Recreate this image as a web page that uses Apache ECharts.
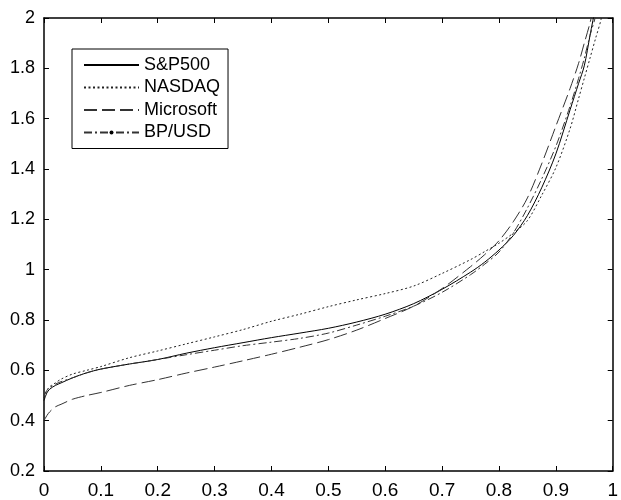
<!DOCTYPE html>
<html>
<head>
<meta charset="utf-8">
<script src="https://cdn.jsdelivr.net/npm/echarts@6/dist/echarts.min.js"></script>
<style>html,body{margin:0;padding:0;background:#fff}#c{width:621px;height:500px}</style>
</head>
<body>
<div id="c"></div>
<script>
const xs = [0, 0.005, 0.01, 0.02, 0.03, 0.05, 0.075, 0.1, 0.15, 0.2, 0.25, 0.3, 0.35, 0.4, 0.45, 0.5, 0.55, 0.6, 0.65, 0.7, 0.75, 0.775, 0.8, 0.825, 0.85, 0.875, 0.9, 0.925, 0.94, 0.95, 0.96, 0.97, 0.98, 0.99];
const sp500 = [0.48, 0.51, 0.525, 0.54, 0.55, 0.57, 0.59, 0.605, 0.625, 0.643, 0.668, 0.69, 0.71, 0.73, 0.748, 0.767, 0.792, 0.823, 0.865, 0.922, 0.99, 1.03, 1.078, 1.135, 1.215, 1.325, 1.46, 1.635, 1.74, 1.81, 1.93, 2.05, 2.2, 2.4];
const nasdaq = [0.49, 0.52, 0.535, 0.55, 0.565, 0.585, 0.60, 0.615, 0.65, 0.677, 0.705, 0.733, 0.762, 0.795, 0.823, 0.853, 0.88, 0.905, 0.935, 0.985, 1.04, 1.072, 1.105, 1.145, 1.195, 1.295, 1.405, 1.56, 1.68, 1.76, 1.84, 1.92, 2.0, 2.15];
const microsoft = [0.40, 0.42, 0.435, 0.455, 0.465, 0.485, 0.50, 0.512, 0.54, 0.563, 0.589, 0.613, 0.638, 0.664, 0.692, 0.722, 0.76, 0.806, 0.855, 0.925, 1.012, 1.06, 1.115, 1.19, 1.285, 1.42, 1.57, 1.72, 1.82, 1.90, 1.98, 2.08, 2.2, 2.35];
const bpusd = [0.50, 0.52, 0.53, 0.545, 0.555, 0.57, 0.59, 0.605, 0.625, 0.643, 0.662, 0.68, 0.698, 0.712, 0.727, 0.748, 0.78, 0.815, 0.855, 0.91, 0.98, 1.022, 1.07, 1.145, 1.245, 1.36, 1.49, 1.65, 1.76, 1.84, 1.93, 2.01, 2.15, 2.3];
const seriesNames = ['S&P500', 'NASDAQ', 'Microsoft', 'BP/USD'];

const pair = ys => xs.map((x, i) => [x, ys[i]]);
const font = 'Liberation Sans, Arial, Helvetica, sans-serif';
const chart = echarts.init(document.getElementById('c'), null, {renderer: 'canvas'});

const baseAxis = {
  axisLine: {show: true, onZero: false, lineStyle: {color: '#000', width: 1.5}},
  axisTick: {show: true, inside: true, length: 5, lineStyle: {color: '#000', width: 1}},
  splitLine: {show: false}
};

chart.setOption({
  animation: false,
  backgroundColor: '#fff',
  grid: {left: 44, right: 2, top: 18, bottom: 25, containLabel: false},
  legend: {
    orient: 'vertical', left: 72, top: 49,
    padding: [7, 8, 7, 11],
    itemWidth: 55, itemHeight: 5, itemGap: 4.5, itemTextGap: 4,
    borderColor: '#000', borderWidth: 1, backgroundColor: '#fff',
    textStyle: {fontFamily: font, fontSize: 18, color: '#000'},
    data: [
      {name: 'S&P500', itemStyle: {opacity: 0}},
      {name: 'NASDAQ', itemStyle: {opacity: 0}},
      {name: 'Microsoft', itemStyle: {opacity: 0}},
      {name: 'BP/USD'}
    ]
  },
  xAxis: [
    Object.assign({}, baseAxis, {type: 'value', min: 0, max: 1, interval: 0.1, position: 'bottom',
      axisLabel: {color: '#000', fontFamily: font, fontSize: 19, margin: 10}}),
    Object.assign({}, baseAxis, {type: 'value', min: 0, max: 1, interval: 0.1, position: 'top',
      axisLabel: {show: false}})
  ],
  yAxis: [
    Object.assign({}, baseAxis, {type: 'value', min: 0.2, max: 2, interval: 0.2, position: 'left',
      axisLabel: {color: '#000', fontFamily: font, fontSize: 18, margin: 9}}),
    Object.assign({}, baseAxis, {type: 'value', min: 0.2, max: 2, interval: 0.2, position: 'right',
      axisLabel: {show: false}})
  ],
  series: [
    {name: seriesNames[0], type: 'line', data: pair(sp500), smooth: 0.3, symbol: 'none', clip: true,
      lineStyle: {color: '#000', width: 1, type: 'solid'}, itemStyle: {color: '#000'}},
    {name: seriesNames[1], type: 'line', data: pair(nasdaq), smooth: 0.3, symbol: 'none', clip: true,
      lineStyle: {color: '#222', width: 1, type: [2, 2.5]}, itemStyle: {color: '#222'}},
    {name: seriesNames[2], type: 'line', data: pair(microsoft), smooth: 0.3, symbol: 'none', clip: true,
      lineStyle: {color: '#333', width: 1, type: [13, 5]}, itemStyle: {color: '#333'}},
    {name: seriesNames[3], type: 'line', data: pair(bpusd), smooth: 0.3, symbol: 'circle', symbolSize: 4, showSymbol: false, clip: true,
      lineStyle: {color: '#333', width: 1, type: [8, 3, 2, 3]}, itemStyle: {color: '#000'}}
  ]
});
</script>
</body>
</html>
